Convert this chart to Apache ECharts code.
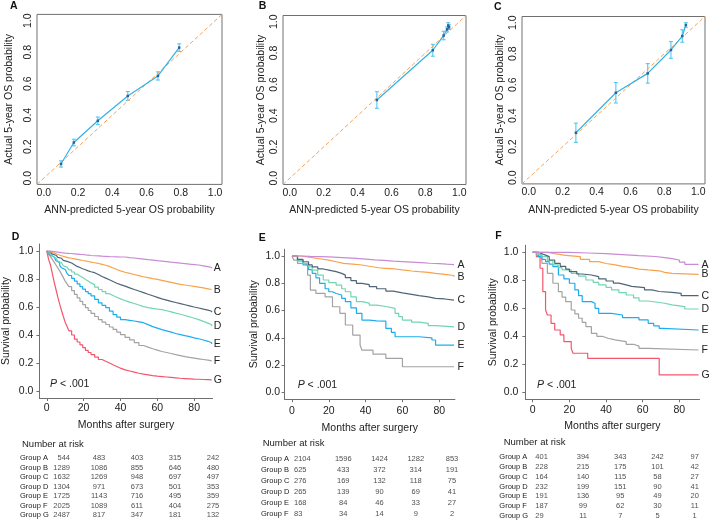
<!DOCTYPE html>
<html><head><meta charset="utf-8">
<script src="https://cdn.jsdelivr.net/npm/echarts@6/dist/echarts.min.js"></script>
<style>html,body{margin:0;padding:0;background:#fff}#c{width:709px;height:520px}</style>
</head><body><div id="c"></div>
<script>
const FONT = '"Liberation Sans", Arial, Helvetica, sans-serif';
// ---------- calibration panels (A, B, C) ----------
const calTicks = [0, 0.2, 0.4, 0.6, 0.8, 1.0];
const calRange = [-0.04, 1.04];
const calA_pred = [0.10, 0.175, 0.315, 0.49, 0.666, 0.79];
const calA_obs  = [0.09, 0.226, 0.364, 0.522, 0.649, 0.829];
const calA_err  = [0.02, 0.021, 0.024, 0.028, 0.026, 0.024];
const calB_pred = [0.514, 0.844, 0.908, 0.928, 0.935, 0.94];
const calB_obs  = [0.50, 0.818, 0.912, 0.951, 0.976, 0.965];
const calB_err  = [0.053, 0.038, 0.027, 0.016, 0.018, 0.015];
const calC_pred = [0.278, 0.514, 0.702, 0.839, 0.906, 0.927];
const calC_obs  = [0.290, 0.548, 0.673, 0.824, 0.914, 0.985];
const calC_err  = [0.062, 0.066, 0.063, 0.054, 0.04, 0.015];
// ---------- Kaplan-Meier panels (D, E, F) ----------
const kmTicksX = [0, 20, 40, 60, 80];
const kmTicksY = [0, 0.2, 0.4, 0.6, 0.8, 1.0];
const kmD_t = [0,1,2,3,4,5,6,7,8,9,10,11,12,13.5,15,16.5,18,19.5,21,22.5,24,26,28,30,32,34,36,38,40,42.5,45,47.5,50,52.5,55,57.5,60,62.5,65,67.5,70,72.5,75,77.5,80,82.5,85,87.5,89.5];
const kmD_A = [1,.999,.997,.996,.994,.992,.99,.988,.987,.985,.984,.983,.982,.98,.978,.976,.975,.972,.97,.968,.966,.965,.963,.962,.96,.959,.958,.957,.957,.953,.95,.946,.942,.938,.935,.931,.928,.924,.92,.917,.913,.91,.906,.903,.90,.894,.888,.882,.876];
const kmD_B = [1,.995,.99,.985,.98,.975,.97,.966,.962,.958,.955,.951,.948,.944,.94,.936,.932,.929,.925,.921,.916,.911,.905,.898,.89,.879,.868,.858,.848,.84,.832,.824,.816,.81,.803,.797,.79,.783,.776,.769,.762,.757,.752,.747,.742,.736,.73,.725,.72];
const kmD_C = [1,.993,.985,.978,.97,.962,.955,.948,.94,.933,.926,.92,.914,.902,.89,.882,.873,.866,.858,.852,.845,.832,.818,.806,.795,.782,.77,.76,.749,.737,.725,.714,.703,.691,.68,.669,.658,.649,.64,.632,.624,.616,.608,.6,.593,.585,.578,.57,.562];
const kmD_D = [1,.988,.975,.962,.95,.939,.928,.916,.905,.895,.885,.875,.865,.85,.835,.822,.81,.797,.785,.772,.76,.742,.725,.71,.695,.682,.67,.658,.646,.635,.625,.614,.603,.596,.59,.585,.581,.573,.565,.556,.548,.539,.53,.52,.51,.497,.485,.473,.462];
const kmD_E = [1,.985,.97,.958,.945,.93,.916,.898,.88,.868,.855,.84,.825,.805,.785,.765,.745,.727,.71,.695,.68,.655,.63,.612,.595,.57,.545,.527,.51,.505,.5,.494,.488,.474,.46,.449,.438,.429,.42,.411,.403,.395,.388,.38,.373,.364,.355,.345,.335];
const kmD_F = [1,.975,.96,.94,.92,.9,.88,.858,.835,.81,.785,.765,.745,.717,.69,.665,.64,.617,.595,.575,.555,.532,.51,.492,.475,.457,.44,.421,.402,.383,.365,.345,.325,.313,.302,.292,.282,.275,.268,.26,.253,.246,.24,.235,.23,.225,.22,.215,.21];
const kmD_G = [1,.94,.9,.84,.78,.725,.67,.62,.575,.532,.49,.46,.43,.4,.37,.35,.33,.31,.29,.275,.26,.242,.225,.212,.2,.187,.175,.163,.151,.143,.135,.127,.12,.115,.11,.106,.103,.1,.097,.094,.091,.089,.087,.085,.084,.082,.081,.08,.079];

const kmE_A_t = [0,5,10,15,20,25,30,35,40,45,50,55,60,65,70,75,80,84,88];
const kmE_A_s = [1,.997,.995,.993,.99,.986,.982,.977,.972,.968,.963,.959,.955,.951,.947,.944,.94,.937,.934];
const kmE_B_t = [0,5,10,15,20,24,28,33,38,42,47,51,56,60,65,69,74,78,83,88];
const kmE_B_s = [1,.99,.98,.97,.958,.946,.94,.934,.925,.914,.91,.905,.898,.89,.885,.88,.873,.866,.857,.848];
const kmE_C_t = [0,3,6,9,11,14,17,20,24,27,29,32,35,38,42,46,51,55,60,65,69,74,78,83,88];
const kmE_C_s = [1,.975,.958,.935,.92,.905,.897,.885,.873,.86,.841,.82,.80,.79,.775,.76,.743,.73,.719,.71,.70,.69,.685,.677,.677];
const kmE_D_t = [0,3,6,9,11,14,17,20,24,27,29,32,35,38,42,46,51,56,58,60,65,69,74,78,88];
const kmE_D_s = [1,.97,.946,.92,.897,.86,.824,.805,.787,.76,.738,.70,.665,.655,.64,.63,.616,.58,.555,.53,.515,.506,.49,.48,.48];
const kmE_E_t = [0,3,6,9,11,13,15,18,20,22,24,27,29,32,35,38,42,46,51,54,56,62,69,76,78,88];
const kmE_E_s = [1,.965,.934,.9,.873,.84,.80,.76,.738,.725,.714,.69,.665,.62,.58,.53,.525,.523,.469,.44,.408,.408,.40,.384,.347,.347];
const kmE_F_t = [0,1,3,6,8.5,10,13,18,22,26,29,33,37,38,44,51,60,88];
const kmE_F_s = [1,.97,.946,.934,.86,.75,.726,.70,.628,.58,.494,.42,.347,.31,.28,.249,.188,.188];

const kmF_A_t = [0,20,30,40,49,58,67,72,76,80,83,90.5];
const kmF_A_s = [1,.995,.99,.983,.976,.97,.962,.955,.945,.93,.914,.91];
const kmF_B_t = [0,8,12,17,21,26,31,36,40,45,49,54,58,63,69,72,76,90.5];
const kmF_B_s = [1,.99,.98,.975,.969,.95,.933,.92,.91,.9,.89,.88,.874,.868,.857,.85,.843,.843];
const kmF_C_t = [0,3,5,7,9,12,15,18,20,24,27,32,36,40,44,47,51,54,61,65,69,76,81,90.5];
const kmF_C_s = [1,.99,.98,.969,.945,.921,.9,.88,.862,.845,.838,.826,.81,.795,.78,.767,.757,.748,.731,.72,.714,.707,.69,.69];
const kmF_D_t = [0,3,5,8,11,14,16,21,25,29,33,36,40,43,47,51,55,58,63,67,72,76,83,90.5];
const kmF_D_s = [1,.985,.969,.94,.91,.89,.874,.85,.83,.802,.785,.767,.75,.731,.712,.695,.675,.652,.645,.636,.625,.612,.595,.595];
const kmF_E_t = [0,3,5,7,9,11,14,17,20,23,25,27,32,34,36,43,49,58,63,66,69,71,90.5];
const kmF_E_s = [1,.969,.95,.933,.915,.898,.838,.81,.779,.731,.69,.648,.636,.60,.564,.552,.533,.517,.493,.475,.457,.445,.445];
const kmF_F_t = [0,2,5,8,11,14,16,18,21,23,25,27,29,32,35,38,41,45,51,55,58,63,90.5];
const kmF_F_s = [1,.98,.921,.85,.779,.719,.68,.648,.588,.56,.529,.5,.469,.421,.40,.386,.375,.362,.343,.33,.314,.302,.302];
const kmF_G_t = [0,2,4,5.5,7,8,10,12,15,17,21,22,30,69,90.5];
const kmF_G_s = [1,.969,.886,.719,.588,.552,.493,.445,.41,.362,.314,.279,.243,.124,.124];

const groupLetters = ['A','B','C','D','E','F','G'];
const groupColors = ['#c98ad6','#f8a24c','#4f6577','#72d5b2','#1cadf0','#a3a3a3','#f2566c'];
// ---------- Number at risk ----------
const groupsD = ['Group A','Group B','Group C','Group D','Group E','Group F','Group G'];
const riskD = [[544,483,403,315,242],[1289,1086,855,646,480],[1632,1269,948,697,497],[1304,971,673,501,353],[1725,1143,716,495,359],[2025,1089,611,404,275],[2487,817,347,181,132]];
const groupsE = ['Group A','Group B','Group C','Group D','Group E','Group F'];
const riskE = [[2104,1596,1424,1282,853],[625,433,372,314,191],[276,169,132,118,75],[265,139,90,69,41],[168,84,46,33,27],[83,34,14,9,2]];
const groupsF = ['Group A','Group B','Group C','Group D','Group E','Group F','Group G'];
const riskF = [[401,394,343,242,97],[228,215,175,101,42],[164,140,115,58,27],[232,199,151,90,41],[191,136,95,49,20],[187,99,62,30,11],[29,11,7,5,1]];

const chart = echarts.init(document.getElementById('c'), null, {renderer:'canvas'});
const TXT = '#222';

const grids = [
  {left:37, top:14.4, width:185, height:170},
  {left:283, top:15.5, width:183, height:169},
  {left:522, top:16.5, width:183, height:167.4},
  {left:38.6, top:244, width:174, height:154},
  {left:284.6, top:249.2, width:170.3, height:150},
  {left:525.4, top:245.3, width:174.1, height:154},
  {left:61, top:458, width:152, height:57},
  {left:307, top:459, width:145, height:55},
  {left:545.8, top:457.3, width:148.9, height:58.7}
].map((g,i)=>Object.assign({containLabel:false, show:i<3, borderColor:'#707070', borderWidth:1, backgroundColor:'transparent'}, g));

const xAxes = [], yAxes = [];
const calYGap = [22, 16, 16];
for (let i=0;i<3;i++){
  xAxes.push({gridIndex:i, type:'value', min:calRange[0], max:calRange[1],
    axisLine:{show:false}, axisTick:{show:false}, splitLine:{show:false},
    axisLabel:{customValues:calTicks, formatter:v=>v.toFixed(1), fontSize:10.5, color:TXT, fontFamily:FONT, margin:3},
    name:'ANN-predicted 5-year OS probability', nameLocation:'middle', nameGap:20.5,
    nameTextStyle:{fontSize:10.5, color:TXT, fontFamily:FONT}});
  yAxes.push({gridIndex:i, type:'value', min:calRange[0], max:calRange[1],
    axisLine:{show:false}, axisTick:{show:false}, splitLine:{show:false},
    axisLabel:{customValues:calTicks, formatter:v=>v.toFixed(1), fontSize:10.5, color:TXT, fontFamily:FONT, margin:3, rotate:90},
    name:'Actual 5-year OS probability', nameLocation:'middle', nameGap:calYGap[i],
    nameTextStyle:{fontSize:10.5, color:TXT, fontFamily:FONT}});
}
const kmXmax = [90, 88.5, 91];
const kmXLabelMargin = [4.7, 6, 5.4];
const kmXNameGap = [22, 23, 21.7];
const kmYLabelMargin = [6, 4.6, 7];
const kmYNameGap = [27.4, 25, 26.5];
for (let k=0;k<3;k++){
  const gi = 3+k;
  xAxes.push({gridIndex:gi, type:'value', min:-4, max:kmXmax[k],
    axisLine:{show:true, onZero:false, lineStyle:{color:'#707070', width:1}},
    axisTick:{show:true, customValues:kmTicksX, length:3, lineStyle:{color:'#707070'}}, splitLine:{show:false},
    axisLabel:{customValues:kmTicksX, fontSize:10.5, color:TXT, fontFamily:FONT, margin:kmXLabelMargin[k]},
    name:'Months after surgery', nameLocation:'middle', nameGap:kmXNameGap[k],
    nameTextStyle:{fontSize:10.5, color:TXT, fontFamily:FONT}});
  yAxes.push({gridIndex:gi, type:'value', min:-0.05, max:1.05,
    axisLine:{show:true, onZero:false, lineStyle:{color:'#707070', width:1}},
    axisTick:{show:true, customValues:kmTicksY, length:3, lineStyle:{color:'#707070'}}, splitLine:{show:false},
    axisLabel:{customValues:kmTicksY, formatter:v=>v.toFixed(1), fontSize:10.5, color:TXT, fontFamily:FONT, margin:kmYLabelMargin[k]},
    name:'Survival probability', nameLocation:'middle', nameGap:kmYNameGap[k],
    nameTextStyle:{fontSize:10.5, color:TXT, fontFamily:FONT}});
}
const tables = [
  {groups:groupsD, risk:riskD, margin:41, align:'right', off:9},
  {groups:groupsE, risk:riskE, margin:46, align:'left', off:-13},
  {groups:groupsF, risk:riskF, margin:46.5, align:'left', off:-10.5}
];
tables.forEach((t,k)=>{
  const gi = 6+k;
  xAxes.push({gridIndex:gi, type:'value', min:0, max:4, show:false});
  yAxes.push({gridIndex:gi, type:'category', data:t.groups, inverse:true, boundaryGap:false,
    axisLine:{show:false}, axisTick:{show:false}, splitLine:{show:false},
    axisLabel:{interval:0, hideOverlap:false, align:'left', margin:t.margin, fontSize:7.5, color:TXT, fontFamily:FONT}});
});

const series = [];
const cal = [[calA_pred,calA_obs,calA_err],[calB_pred,calB_obs,calB_err],[calC_pred,calC_obs,calC_err]];
cal.forEach((c,i)=>{
  series.push({type:'line', xAxisIndex:i, yAxisIndex:i, data:[[calRange[0],calRange[0]],[calRange[1],calRange[1]]],
    symbol:'none', lineStyle:{color:'#f5a35c', width:1, type:[4,2.5]}, silent:true, animation:false});
  series.push({type:'custom', xAxisIndex:i, yAxisIndex:i, silent:true, animation:false,
    data:c[0].map((x,j)=>[x, c[1][j]-c[2][j], c[1][j]+c[2][j]]),
    encode:{x:0, y:[1,2]},
    renderItem:(params, api)=>{
      const x = api.value(0), lo = api.value(1), hi = api.value(2);
      const p1 = api.coord([x,lo]), p2 = api.coord([x,hi]);
      const w = 2, st = {stroke:'#52c8f0', lineWidth:1.1};
      return {type:'group', children:[
        {type:'line', shape:{x1:p1[0],y1:p1[1],x2:p2[0],y2:p2[1]}, style:st},
        {type:'line', shape:{x1:p1[0]-w,y1:p1[1],x2:p1[0]+w,y2:p1[1]}, style:st},
        {type:'line', shape:{x1:p2[0]-w,y1:p2[1],x2:p2[0]+w,y2:p2[1]}, style:st}
      ]};
    }});
  series.push({type:'line', xAxisIndex:i, yAxisIndex:i, data:c[0].map((x,j)=>[x,c[1][j]]),
    symbol:'rect', symbolSize:2.5, itemStyle:{color:'#2d5f98'}, lineStyle:{color:'#33b2e6', width:1.2},
    silent:true, animation:false});
});
function km(gi, letter, t, s, dist){
  const idx = groupLetters.indexOf(letter);
  return {type:'line', xAxisIndex:gi, yAxisIndex:gi, name:letter, data:t.map((v,j)=>[v,s[j]]),
    step:'end', symbol:'none', showSymbol:false, lineStyle:{color:groupColors[idx], width:1.2},
    endLabel:{show:true, formatter:letter, color:TXT, fontSize:10.5, fontFamily:FONT, distance:dist},
    silent:true, animation:false, z:10-idx};
}
[kmD_A,kmD_B,kmD_C,kmD_D,kmD_E,kmD_F,kmD_G].forEach((s,j)=>series.push(km(3, groupLetters[j], kmD_t, s, 2)));
[[kmE_A_t,kmE_A_s],[kmE_B_t,kmE_B_s],[kmE_C_t,kmE_C_s],[kmE_D_t,kmE_D_s],[kmE_E_t,kmE_E_s],[kmE_F_t,kmE_F_s]]
  .forEach((p,j)=>series.push(km(4, groupLetters[j], p[0], p[1], 3.4)));
[[kmF_A_t,kmF_A_s],[kmF_B_t,kmF_B_s],[kmF_C_t,kmF_C_s],[kmF_D_t,kmF_D_s],[kmF_E_t,kmF_E_s],[kmF_F_t,kmF_F_s],[kmF_G_t,kmF_G_s]]
  .forEach((p,j)=>series.push(km(5, groupLetters[j], p[0], p[1], 3)));

tables.forEach((t,k)=>{
  const gi = 6+k;
  const lbl = {show:true, position:'inside', formatter:p=>String(p.value[2]), fontSize:7.5, color:TXT, fontFamily:FONT, verticalAlign:'middle'};
  series.push({type:'scatter', xAxisIndex:gi, yAxisIndex:gi, symbolSize:1, itemStyle:{color:'transparent'},
    data:t.risk.map((r,i)=>[0,i,r[0]]), label:Object.assign({}, lbl, {align:t.align, offset:[t.off,0]}),
    silent:true, animation:false});
  const rest = [];
  t.risk.forEach((r,i)=>{ for (let c=1;c<r.length;c++) rest.push([c,i,r[c]]); });
  series.push({type:'scatter', xAxisIndex:gi, yAxisIndex:gi, symbolSize:1, itemStyle:{color:'transparent'},
    data:rest, label:Object.assign({}, lbl, {align:'center'}), silent:true, animation:false});
});

const letterStyle = {fontSize:10.5, fontWeight:'bold', fill:'#111', fontFamily:FONT};
const panelLetters = [['A',10,6.7],['B',258.7,6.7],['C',494,7.5],['D',11.7,238],['E',258.7,238.8],['F',495.3,237]];
const pTexts = [[50,385],[297.7,385.7],[537,385.7]];
const narTexts = [[22,445],[262.7,444.3],[503.7,443.3]];
const graphic = [];
panelLetters.forEach(p=>graphic.push({type:'text', left:p[1], top:p[2]-6, style:Object.assign({text:p[0]}, letterStyle), silent:true}));
pTexts.forEach(p=>graphic.push({type:'text', left:p[0], top:p[1]-6, silent:true,
  style:{text:'{i|P} < .001', rich:{i:{fontStyle:'italic', fontSize:10.5, fontFamily:FONT, fill:TXT}}, fontSize:10.5, fontFamily:FONT, fill:TXT}}));
narTexts.forEach(p=>graphic.push({type:'text', left:p[0], top:p[1]-6, silent:true,
  style:{text:'Number at risk', fontSize:9.5, fontFamily:FONT, fill:TXT}}));

chart.setOption({animation:false, backgroundColor:'#fff', textStyle:{fontFamily:FONT},
  grid:grids, xAxis:xAxes, yAxis:yAxes, series:series, graphic:graphic});
</script></body></html>
